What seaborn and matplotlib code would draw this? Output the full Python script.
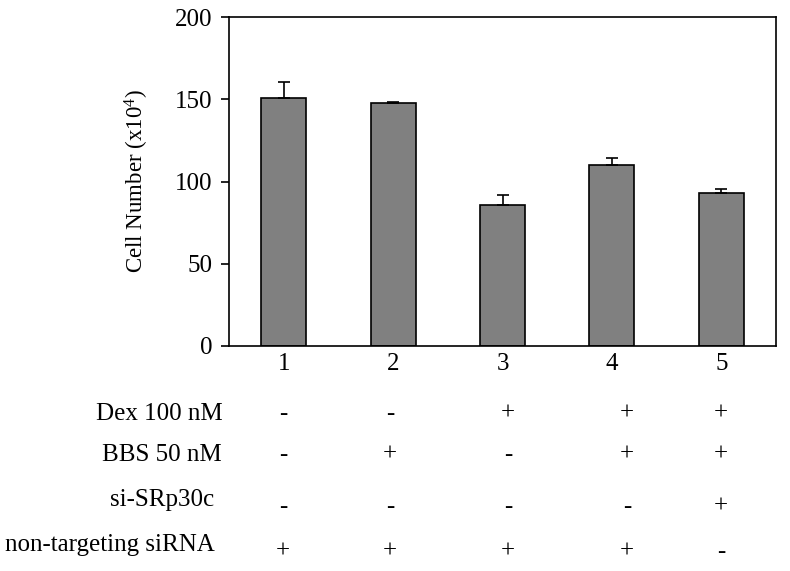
import matplotlib
matplotlib.use("Agg")
import matplotlib.pyplot as plt
import seaborn as sns
import numpy as np
import pandas as pd

# ---- data ----
lanes = ["1", "2", "3", "4", "5"]
cell_number = [151, 148, 86, 110, 93]
err_upper = [9.5, 0.6, 5.5, 4.3, 2.2]

row_labels = ["Dex 100 nM", "BBS 50 nM", "si-SRp30c", "non-targeting siRNA"]
signs = [
    ["-", "-", "+", "+", "+"],
    ["-", "+", "-", "+", "+"],
    ["-", "-", "-", "-", "+"],
    ["+", "+", "+", "+", "-"],
]

# ---- style ----
sns.set_theme(style="white")
plt.rcParams["font.family"] = ["Liberation Serif", "DejaVu Serif"]
plt.rcParams["mathtext.fontset"] = "custom"
plt.rcParams["mathtext.rm"] = "Liberation Serif"
plt.rcParams["mathtext.it"] = "Liberation Serif:italic"

W, H = 790, 571
fig = plt.figure(figsize=(W / 100, H / 100), dpi=100)
ax = fig.add_axes([229 / W, 1 - 346 / H, (776 - 229) / W, (346 - 17) / H])

df = pd.DataFrame({"lane": lanes, "cells": cell_number})
sns.barplot(data=df, x="lane", y="cells", color="#808080", saturation=1,
            edgecolor="black", linewidth=1.2, width=0.41, errorbar=None, ax=ax)

xpos = np.arange(len(lanes))
ax.errorbar(xpos, cell_number, yerr=[np.zeros(len(lanes)), err_upper],
            fmt="none", ecolor="black", elinewidth=1.2, capsize=4.5, capthick=1.2)

ax.set_ylim(0, 200)
ax.set_xlim(-0.5, 4.5)
ax.set_yticks([0, 50, 100, 150, 200])
ax.set_xlabel("")
ax.set_ylabel(r"Cell Number (x10$^{4}$)", fontsize=16.5, color="black")
ax.yaxis.set_label_coords(-0.142, 0.5)

for s in ax.spines.values():
    s.set_visible(True)
    s.set_color("black")
    s.set_linewidth(1.2)

ax.tick_params(axis="y", which="both", left=True, length=6, width=1.2,
               color="black", labelsize=18, labelcolor="black", pad=6, direction="out")
ax.tick_params(axis="x", which="both", bottom=False, length=0,
               labelsize=18, labelcolor="black", pad=5)

# ---- treatment table below ----
label_right = [223, 222, 214, 215]
label_y = [414, 455, 500, 545]
sign_y = [414, 455, 507, 552]
sign_x = [283, 390, 508, 627, 721]

for i, lab in enumerate(row_labels):
    fig.text(label_right[i] / W, 1 - label_y[i] / H, lab, ha="right", va="center",
             fontsize=18, color="black")
    for j, s in enumerate(signs[i]):
        fig.text(sign_x[j] / W, 1 - sign_y[i] / H, s, ha="center", va="center",
                 fontsize=18, color="black")

fig.savefig("out.png", dpi=100, facecolor="white")
